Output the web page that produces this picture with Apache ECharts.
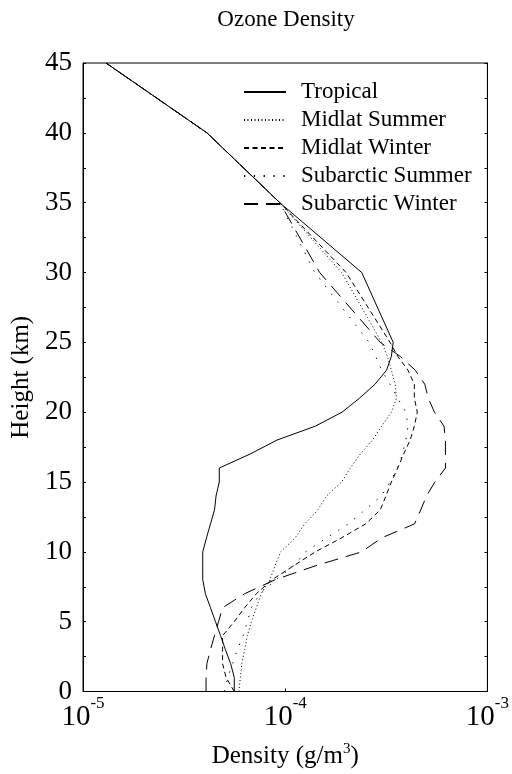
<!DOCTYPE html>
<html>
<head>
<meta charset="utf-8">
<script src="https://cdn.jsdelivr.net/npm/echarts@6/dist/echarts.min.js"></script>
<style>
  html, body { margin: 0; padding: 0; background: #fff; }
  #chart { width: 512px; height: 774px; }
</style>
</head>
<body>
<div id="chart"></div>
<script>
// Altitude levels (km) shared by every profile
const heights = [0, 1, 2, 3, 4, 5, 6, 7, 8, 9, 10, 11, 12, 13, 14, 15, 16, 17, 18, 19, 20,
                 21, 22, 23, 24, 25, 30, 35, 40, 45];

// Ozone density profiles (g/m^3), one value per altitude level
const tropical = [5.6e-5, 5.6e-5, 5.37e-5, 5.06e-5, 4.79e-5, 4.52e-5, 4.27e-5, 4.03e-5, 3.91e-5, 3.91e-5,
                  3.91e-5, 4.08e-5, 4.27e-5, 4.47e-5, 4.55e-5, 4.72e-5, 4.72e-5, 6.7e-5, 9.1e-5, 1.41e-4,
                  1.91e-4, 2.33e-4, 2.78e-4, 3.17e-4, 3.35e-4, 3.42e-4, 2.39e-4, 9.4e-5, 4.1e-5, 1.3e-5];
const midlatSummer = [5.9e-5, 6.0e-5, 6.1e-5, 6.3e-5, 6.5e-5, 6.8e-5, 7.2e-5, 7.6e-5, 8.4e-5, 8.9e-5,
                      9.5e-5, 1.12e-4, 1.25e-4, 1.45e-4, 1.6e-4, 1.9e-4, 2.1e-4, 2.35e-4, 2.7e-4, 3.0e-4,
                      3.35e-4, 3.55e-4, 3.5e-4, 3.35e-4, 3.2e-4, 3.0e-4, 1.9e-4, 9.4e-5, 4.1e-5, 1.3e-5];
const midlatWinter = [5.6e-5, 5.1e-5, 4.9e-5, 4.9e-5, 4.9e-5, 5.6e-5, 6.3e-5, 7.2e-5, 8.6e-5, 1.1e-4,
                      1.41e-4, 1.9e-4, 2.5e-4, 2.95e-4, 3.15e-4, 3.35e-4, 3.6e-4, 3.85e-4, 4.15e-4, 4.35e-4,
                      4.5e-4, 4.35e-4, 4.35e-4, 4.05e-4, 3.6e-4, 3.3e-4, 2.0e-4, 9.4e-5, 4.1e-5, 1.3e-5];
const subarcticSummer = [5.0e-5, 5.2e-5, 5.5e-5, 5.8e-5, 6.2e-5, 6.5e-5, 6.8e-5, 7.5e-5, 9.0e-5, 1.1e-4,
                         1.26e-4, 1.6e-4, 2.05e-4, 2.48e-4, 2.99e-4, 3.3e-4, 3.6e-4, 3.8e-4, 3.95e-4, 4.05e-4,
                         3.95e-4, 3.6e-4, 3.3e-4, 3.0e-4, 2.8e-4, 2.6e-4, 1.4e-4, 9.4e-5, 4.1e-5, 1.3e-5];
const subarcticWinter = [4.06e-5, 4.06e-5, 4.1e-5, 4.27e-5, 4.47e-5, 4.68e-5, 4.9e-5, 6.3e-5, 8.9e-5, 1.41e-4,
                         2.39e-4, 3.0e-4, 4.36e-4, 4.68e-4, 5.0e-4, 5.5e-4, 6.2e-4, 6.2e-4, 6.2e-4, 6.1e-4,
                         5.47e-4, 5.1e-4, 4.9e-4, 4.4e-4, 3.7e-4, 2.95e-4, 1.48e-4, 9.4e-5, 4.1e-5, 1.3e-5];

const seriesNames = ['Tropical', 'Midlat Summer', 'Midlat Winter', 'Subarctic Summer', 'Subarctic Winter'];
const xTickExponents = ['-5', '-4', '-3'];
const yTickLabels = ['0', '5', '10', '15', '20', '25', '30', '35', '40', '45'];

const FONT = 'Liberation Serif';
const profiles = [tropical, midlatSummer, midlatWinter, subarcticSummer, subarcticWinter];
const dashes = ['solid', [1, 2.5], [5, 3.5], [1.3, 8.5], [14, 8]];

const chart = echarts.init(document.getElementById('chart'), null, { renderer: 'canvas' });

const series = profiles.map((vals, i) => ({
  name: seriesNames[i],
  type: 'line',
  symbol: 'none',
  silent: true,
  animation: false,
  itemStyle: { color: '#000' },
  lineStyle: { color: '#000', width: 1, type: dashes[i] },
  data: heights.map((h, k) => [vals[k], h])
}));

function xLabel(v) {
  const e = Math.round(Math.log10(v));
  const s = xTickExponents.find(t => Number(t) === e);
  return s === undefined ? '' : '{b|10}{s|' + s + '}';
}

const yAxisBase = {
  type: 'value', min: 0, max: 45, interval: 5,
  axisLine: { show: true, lineStyle: { color: '#000', width: 1 } },
  axisTick: { show: true, inside: true, length: 3, lineStyle: { color: '#000' } },
  minorTick: { show: true, splitNumber: 2, length: 3, lineStyle: { color: '#000' } },
  splitLine: { show: false }
};

chart.setOption({
  backgroundColor: '#fff',
  animation: false,
  grid: { left: 83, right: 22, top: 63, bottom: 81, show: true, borderColor: '#000', borderWidth: 1 },
  graphic: [{
    type: 'text', x: 286, y: 20,
    style: { text: 'Ozone Density', fill: '#000', font: '23px "' + FONT + '"', textAlign: 'center', textVerticalAlign: 'middle' }
  }],
  legend: {
    data: seriesNames,
    orient: 'vertical',
    left: 243, top: 78, padding: 0,
    itemWidth: 42, itemHeight: 10, itemGap: 0,
    selectedMode: false,
    itemStyle: { opacity: 0 },
    textStyle: { fontFamily: FONT, fontSize: 23, color: '#000', lineHeight: 28, padding: [0, 0, 0, 10] }
  },
  xAxis: [{
    type: 'log', logBase: 10, min: 1e-5, max: 1e-3,
    name: '{n|Density (g/m}{s|3}{n|)}',
    nameLocation: 'middle', nameGap: 50,
    nameTextStyle: {
      rich: {
        n: { fontFamily: FONT, fontSize: 25, color: '#000', lineHeight: 30 },
        s: { fontFamily: FONT, fontSize: 15, color: '#000', verticalAlign: 'top', lineHeight: 16 }
      }
    },
    axisLine: { show: true, lineStyle: { color: '#000', width: 1 } },
    axisTick: { show: true, inside: true, length: 3, lineStyle: { color: '#000' } },
    splitLine: { show: false },
    axisLabel: {
      margin: 4,
      formatter: xLabel,
      rich: {
        b: { fontFamily: FONT, fontSize: 29, color: '#000', lineHeight: 36, verticalAlign: 'bottom' },
        s: { fontFamily: FONT, fontSize: 17, color: '#000', lineHeight: 18, verticalAlign: 'top' }
      }
    }
  }],
  yAxis: [
    Object.assign({}, yAxisBase, {
      position: 'left',
      name: 'Height (km)', nameLocation: 'middle', nameGap: 47,
      nameTextStyle: { fontFamily: FONT, fontSize: 25, color: '#000' },
      axisLabel: {
        margin: 11, fontFamily: FONT, fontSize: 27, color: '#000',
        formatter: v => yTickLabels.includes(String(v)) ? String(v) : ''
      }
    }),
    Object.assign({}, yAxisBase, {
      position: 'right',
      axisLabel: { show: false }
    })
  ],
  series: series
});
</script>
</body>
</html>
